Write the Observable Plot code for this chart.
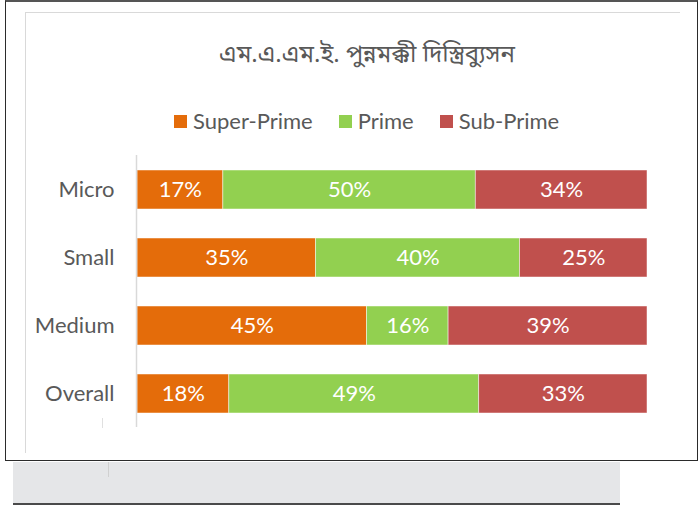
<!DOCTYPE html>
<html>
<head>
<meta charset="utf-8">
<script src="https://cdn.jsdelivr.net/npm/d3@7"></script>
<script src="https://cdn.jsdelivr.net/npm/@observablehq/plot@0.6"></script>
<style>
  html, body { margin: 0; padding: 0; background: #fff; }
  body { position: relative; width: 700px; height: 506px; overflow: hidden; font-family: Lato, "Noto Sans", sans-serif; }
  .abs { position: absolute; }
  #outer { left: 5px; top: 0px; width: 691px; height: 458px; border: 1.5px solid #2b2b2b; border-top: 2px solid #555; background: #fff; }
  #inner { left: 25px; top: 12px; width: 654px; height: 440px; border-left: 1px solid #d9d9d9; border-top: 1px solid #d9d9d9; }
  #gray { left: 13px; top: 462px; width: 607px; height: 41px; background: #e5e6e8; border-bottom: 2px solid #4a4a4a; }
  #tick1 { left: 108px; top: 462px; width: 1px; height: 15px; background: #d0d0d0; }
  #tick2 { left: 102px; top: 418px; width: 1px; height: 10px; background: #e0e0e0; }
  #title { left: 0; top: 38px; width: 734px; text-align: center; font-size: 24px; line-height: 30px; color: #595959; font-family: "Noto Sans", "Noto Sans Bengali", "Lohit Bengali", sans-serif; }
  #legend { left: 174px; top: 107px; font-size: 22px; line-height: 28px; color: #595959; display: flex; white-space: nowrap; }
  .item { display: flex; align-items: center; }
  .sw { width: 13px; height: 13px; margin-right: 6px; }
  #chart { left: 0; top: 140px; }
  #chart svg { overflow: visible; }
</style>
</head>
<body>
<div id="outer" class="abs"></div>
<div id="inner" class="abs"></div>
<div id="gray" class="abs"></div>
<div id="tick1" class="abs"></div>
<div id="tick2" class="abs"></div>
<div id="title" class="abs">এম.এ.এম.ই. পুন্নমক্কী দিস্ত্রিব্যুসন</div>
<div id="legend" class="abs"></div>
<div id="chart" class="abs"></div>
<script>
const categories = ["Micro", "Small", "Medium", "Overall"];
const series = ["Super-Prime", "Prime", "Sub-Prime"];
const colors = ["#E46C0A", "#92D050", "#C0504D"];
const superPrime = [17, 35, 45, 18];
const prime = [50, 40, 16, 49];
const subPrime = [34, 25, 39, 33];

const valuesBySeries = [superPrime, prime, subPrime];
const rows = [];
categories.forEach((c, i) => {
  series.forEach((s, j) => rows.push({cat: c, series: s, value: valuesBySeries[j][i]}));
});

// legend
const legend = document.getElementById("legend");
const gaps = [26, 26, 0];
series.forEach((s, j) => {
  const it = document.createElement("div");
  it.className = "item";
  it.style.marginRight = (gaps[j] || 0) + "px";
  const sw = document.createElement("div");
  sw.className = "sw";
  sw.style.background = colors[j];
  const t = document.createElement("span");
  t.textContent = s;
  it.appendChild(sw); it.appendChild(t);
  legend.appendChild(it);
});

const chart = Plot.plot({
  width: 700,
  height: 300,
  marginTop: 15,
  marginBottom: 13,
  marginLeft: 137,
  marginRight: 53,
  style: {fontFamily: "Lato, 'Noto Sans', sans-serif", background: "transparent"},
  x: {domain: [0, 1], axis: null},
  y: {domain: categories, paddingInner: 0.43, paddingOuter: 0.215, label: null},
  color: {domain: series, range: colors},
  marks: [
    Plot.barX(rows, Plot.stackX({x: "value", y: "cat", fill: "series", order: series, offset: "normalize", stroke: "white", strokeWidth: 0.8, strokeOpacity: 0.6})),
    Plot.text(rows, Plot.stackX({x: "value", y: "cat", z: "series", order: series, offset: "normalize", text: d => d.value + "%", fill: "white", fontSize: 22})),
    Plot.ruleX([0], {stroke: "#d9d9d9", strokeWidth: 1.5, dx: -1}),
    Plot.axisY({tickSize: 0, tickPadding: 23, fontSize: 22, fill: "#595959", label: null})
  ]
});
document.getElementById("chart").appendChild(chart);
</script>
</body>
</html>
